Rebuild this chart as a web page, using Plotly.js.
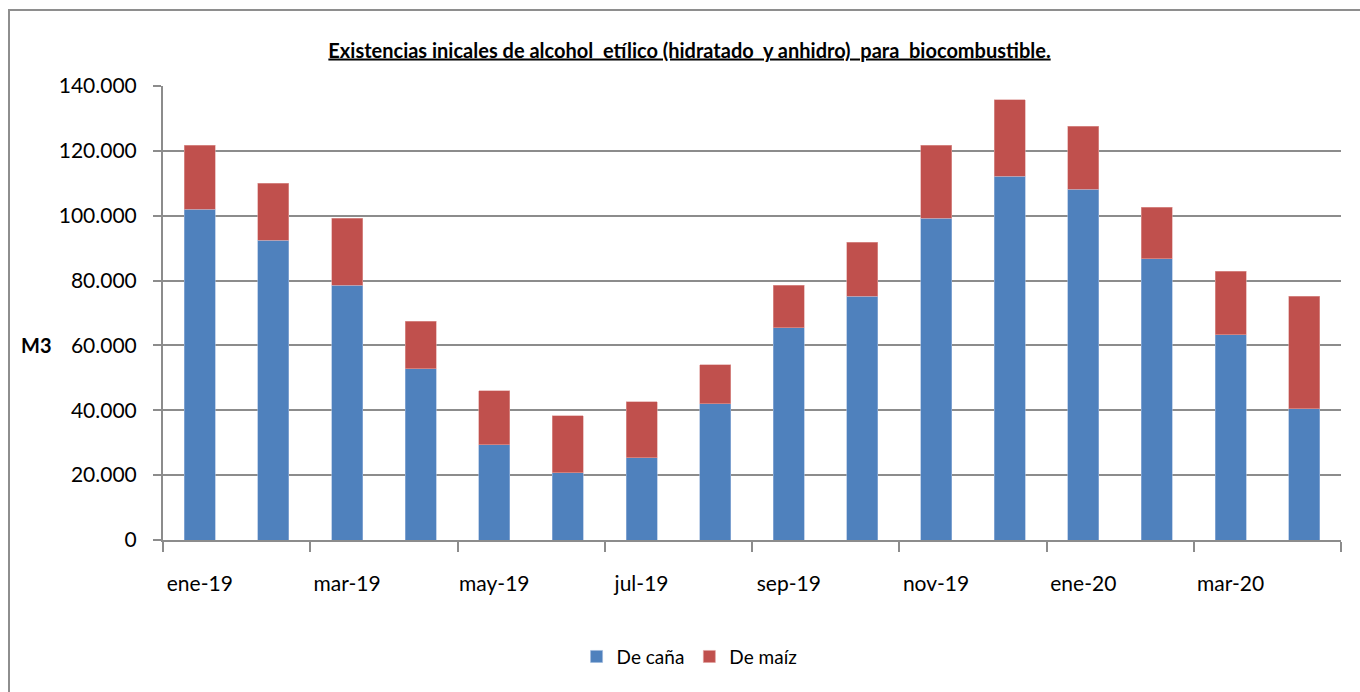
<!DOCTYPE html>
<html>
<head>
<meta charset="utf-8">
<script src="https://cdn.plot.ly/plotly-3.0.1.min.js"></script>
<style>
  html, body { margin: 0; padding: 0; width: 1360px; height: 692px; overflow: hidden; background: #fff; }
  #frame { position: absolute; left: 8px; top: 9px; width: 1400px; height: 740px;
           border-left: 2px solid #8e8e8e; border-top: 2px solid #8e8e8e; box-sizing: border-box; }
  #chart { position: absolute; left: 0; top: 0; width: 1360px; height: 692px; }
</style>
</head>
<body>
<div id="frame"></div>
<div id="chart"></div>
<script>
const months = ["ene-19","feb-19","mar-19","abr-19","may-19","jun-19","jul-19","ago-19",
                "sep-19","oct-19","nov-19","dic-19","ene-20","feb-20","mar-20","abr-20"];
const deCana = [102000, 92400, 78500, 52800, 29400, 20700, 25300, 42000,
                65500, 75100, 99200, 112200, 108200, 86800, 63300, 40500];
const deMaiz = [19800, 17600, 20700, 14600, 16600, 17600, 17300, 12100,
                13000, 16700, 22600, 23500, 19400, 15800, 19500, 34600];
const seriesNames = ["De caña", "De maíz"];
const chartTitle = "Existencias inicales de alcohol  etílico (hidratado  y anhidro)  para  biocombustible.";
const yTitle = "M3";

const FONT = "Lato, 'Liberation Sans Narrow', sans-serif";
const GRID = "#8c8c8c";

const traces = [
  { type: "bar", name: seriesNames[0], x: months, y: deCana,
    marker: { color: "#4F81BD", line: { color: "#9db7dc", width: 0.6 } } },
  { type: "bar", name: seriesNames[1], x: months, y: deMaiz,
    marker: { color: "#C0504D", line: { color: "#e0a09e", width: 0.6 } } }
];

const layout = {
  width: 1360, height: 692,
  paper_bgcolor: "rgba(0,0,0,0)", plot_bgcolor: "rgba(0,0,0,0)",
  separators: ",.",
  barmode: "stack", bargap: 0.58,
  margin: { l: 163, r: 19, t: 86, b: 152, pad: 0 },
  font: { family: FONT, color: "#000", size: 20 },
  title: { text: "<b>" + chartTitle + "</b>", x: 0.507, xanchor: "center", y: 0.927, yanchor: "middle",
           font: { family: FONT, size: 20, color: "#000", lineposition: "under" } },
  xaxis: { type: "category", dtick: 2, tickson: "boundaries", ticks: "outside", ticklen: 10,
           tickwidth: 2, tickcolor: GRID, showline: true, linecolor: GRID, linewidth: 2,
           showgrid: false, tickfont: { size: 21 }, tickangle: 0, ticklabelstandoff: 24 },
  yaxis: { range: [0, 140000], dtick: 20000, tickformat: ",.0f", ticks: "outside", ticklen: 8,
           tickwidth: 2, tickcolor: GRID, showline: true, linecolor: GRID, linewidth: 2,
           showgrid: true, gridcolor: GRID, gridwidth: 2, zeroline: false,
           tickfont: { size: 21 }, ticklabelstandoff: 12 },
  showlegend: true,
  legend: { orientation: "h", x: 0.447, xanchor: "center", y: -0.215, yanchor: "top",
            font: { size: 19 }, traceorder: "normal", itemwidth: 30 },
  annotations: [
    { text: "<b>" + yTitle + "</b>", xref: "paper", yref: "paper", x: -0.107, y: 0.43,
      xanchor: "center", yanchor: "middle", showarrow: false, font: { family: FONT, size: 20 } }
  ]
};

Plotly.newPlot("chart", traces, layout, { displayModeBar: false, staticPlot: true });
</script>
</body>
</html>
